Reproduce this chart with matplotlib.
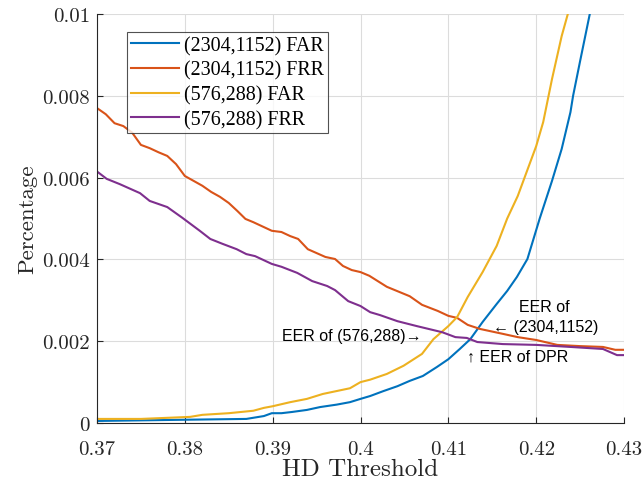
import matplotlib
matplotlib.use("Agg")
import matplotlib.pyplot as plt

# HD threshold vs. error rates
far_big_x = [0.370, 0.380, 0.387, 0.389, 0.3899, 0.391, 0.3922, 0.3939, 0.3954, 0.3973,
             0.3988, 0.400, 0.4011, 0.4026, 0.4042, 0.4056, 0.4071, 0.4087, 0.410, 0.4113,
             0.4125, 0.4139, 0.4155, 0.4167, 0.4178, 0.419, 0.4204, 0.4218, 0.4229, 0.4239,
             0.4242, 0.425, 0.4261, 0.428]
far_big_y = [0.00005, 0.00008, 0.0001, 0.00017, 0.00024, 0.00024, 0.00027, 0.00032, 0.00039, 0.00045,
             0.00051, 0.00059, 0.00066, 0.00078, 0.0009, 0.00103, 0.00115, 0.00137, 0.00156, 0.00181,
             0.00205, 0.00247, 0.00291, 0.00323, 0.00357, 0.00401, 0.005, 0.00592, 0.0067, 0.0076,
             0.008, 0.00885, 0.010, 0.012]

frr_big_x = [0.370, 0.371, 0.372, 0.373, 0.374, 0.375, 0.376, 0.377, 0.378, 0.379,
             0.380, 0.381, 0.382, 0.383, 0.384, 0.385, 0.386, 0.3869, 0.3878, 0.389,
             0.3899, 0.391, 0.392, 0.3929, 0.394, 0.396, 0.3971, 0.398, 0.399, 0.400,
             0.401, 0.403, 0.4056, 0.407, 0.4088, 0.410, 0.411, 0.4122, 0.4136, 0.4162,
             0.4179, 0.420, 0.4224, 0.425, 0.4276, 0.429, 0.430]
frr_big_y = [0.0077, 0.00755, 0.00733, 0.00726, 0.0071, 0.0068, 0.00672, 0.00662, 0.00653, 0.00633,
             0.00604, 0.00592, 0.0058, 0.00565, 0.00553, 0.00538, 0.00518, 0.00499, 0.00491, 0.00479,
             0.0047, 0.00467, 0.00457, 0.0045, 0.00425, 0.00406, 0.00401, 0.00384, 0.00374, 0.00369,
             0.0036, 0.00333, 0.0031, 0.00289, 0.00274, 0.00262, 0.00257, 0.0024, 0.0023, 0.00218,
             0.0021, 0.00203, 0.00191, 0.00188, 0.00186, 0.00179, 0.00179]

far_small_x = [0.370, 0.375, 0.3806, 0.382, 0.385, 0.3878, 0.389, 0.390, 0.392, 0.3939,
               0.3957, 0.3988, 0.400, 0.4011, 0.403, 0.4049, 0.407, 0.4083, 0.410, 0.411,
               0.4122, 0.4139, 0.4155, 0.4167, 0.4179, 0.420, 0.4208, 0.4218, 0.4229, 0.4236,
               0.425]
far_small_y = [0.0001, 0.0001, 0.00015, 0.0002, 0.00024, 0.0003, 0.00037, 0.00041, 0.00051, 0.00059,
               0.00071, 0.00085, 0.001, 0.00106, 0.0012, 0.0014, 0.00169, 0.00205, 0.00237, 0.00259,
               0.00308, 0.00369, 0.00433, 0.005, 0.00555, 0.00677, 0.00736, 0.00841, 0.00946, 0.010,
               0.0115]

frr_small_x = [0.370, 0.3711, 0.3726, 0.3749, 0.376, 0.378, 0.3797, 0.3817, 0.3829, 0.3843,
               0.3859, 0.387, 0.388, 0.3899, 0.391, 0.3928, 0.3945, 0.3962, 0.3971, 0.3986,
               0.400, 0.4011, 0.4022, 0.4042, 0.4064, 0.4093, 0.4108, 0.4121, 0.4133, 0.4162,
               0.420, 0.4239, 0.4276, 0.4292, 0.430]
frr_small_y = [0.00615, 0.00597, 0.00584, 0.00562, 0.00543, 0.00528, 0.00502, 0.0047, 0.0045, 0.00438,
               0.00425, 0.00413, 0.00408, 0.00389, 0.00382, 0.00367, 0.00347, 0.00335, 0.00325, 0.00298,
               0.00286, 0.00271, 0.00264, 0.00249, 0.00237, 0.00222, 0.0021, 0.00208, 0.00198, 0.00193,
               0.00191, 0.00186, 0.00181, 0.00166, 0.00166]

x_ticks = [0.37, 0.38, 0.39, 0.40, 0.41, 0.42, 0.43]
x_labels = ["0.37", "0.38", "0.39", "0.4", "0.41", "0.42", "0.43"]
y_ticks = [0, 0.002, 0.004, 0.006, 0.008, 0.01]
y_labels = ["0", "0.002", "0.004", "0.006", "0.008", "0.01"]

plt.rcParams["font.family"] = ["cmr10", "DejaVu Serif"]
serif = ["Liberation Serif", "DejaVu Serif"]
sans = ["Liberation Sans", "DejaVu Sans"]

fig = plt.figure(figsize=(6.44, 4.89), dpi=100)
ax = fig.add_axes([0.1506, 0.1329, 0.8184, 0.8364])

lw = 1.5
ax.plot(far_big_x, far_big_y, color="#0072BD", lw=lw, label="(2304,1152) FAR")
ax.plot(frr_big_x, frr_big_y, color="#D95319", lw=lw, label="(2304,1152) FRR")
ax.plot(far_small_x, far_small_y, color="#EDB120", lw=lw, label="(576,288) FAR")
ax.plot(frr_small_x, frr_small_y, color="#7E2F8E", lw=lw, label="(576,288) FRR")

ax.set_xlim(0.37, 0.43)
ax.set_ylim(0, 0.01)
ax.set_xticks(x_ticks)
ax.set_xticklabels(x_labels)
ax.set_yticks(y_ticks)
ax.set_yticklabels(y_labels)
ax.tick_params(direction="in", length=4, labelsize=15, colors="#262626")
ax.tick_params(axis="x", pad=12)
ax.tick_params(axis="y", pad=5)
ax.grid(True, color="#dcdcdc", lw=0.8)
ax.set_axisbelow(True)
for s in ["top", "right"]:
    ax.spines[s].set_visible(False)
for s in ["left", "bottom"]:
    ax.spines[s].set_color("#262626")

ax.set_xlabel("HD Threshold", fontsize=18, labelpad=0, color="#262626")
ax.set_ylabel("Percentage", fontsize=16.5, labelpad=4, color="#262626")

leg = ax.legend(loc="upper left", bbox_to_anchor=(0.057, 0.956),
                prop={"family": serif, "size": 14.4},
                frameon=True, fancybox=False, handlelength=2.4, borderpad=0.2,
                labelspacing=0.27, handletextpad=0.25, borderaxespad=0)
leg.get_frame().set_edgecolor("#262626")
leg.get_frame().set_linewidth(0.8)

# EER annotations
fs = 11.5
ax.text(0.399, 0.00215, "EER of (576,288)\u2192", family=sans, fontsize=fs,
        ha="center", va="center")
ax.text(0.4209, 0.00286, "EER of", family=sans, fontsize=fs, ha="center", va="center")
ax.text(0.4211, 0.00237, "\u2190 (2304,1152)", family=sans, fontsize=fs, ha="center", va="center")
ax.text(0.4179, 0.00164, "\u2191 EER of DPR", family=sans, fontsize=fs, ha="center", va="center")

fig.savefig("out.png", dpi=100)
